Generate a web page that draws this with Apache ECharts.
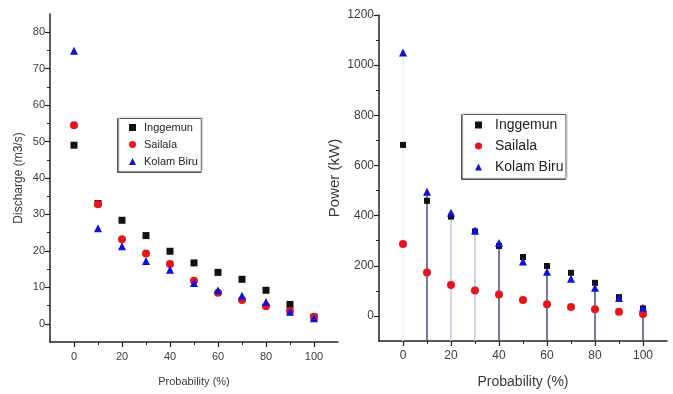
<!DOCTYPE html>
<html>
<head>
<meta charset="utf-8">
<script src="https://cdn.jsdelivr.net/npm/echarts@6/dist/echarts.min.js"></script>
<style>
  html, body { margin: 0; padding: 0; background: #fff; }
  #chart { width: 673px; height: 394px; }
</style>
</head>
<body>
<div id="chart"></div>
<script>
// probability of exceedance (%)
const probability = [0, 10, 20, 30, 40, 50, 60, 70, 80, 90, 100];

// discharge (m3/s)
const dischargeInggemun = [49, 33, 28.4, 24.2, 19.9, 16.7, 14.1, 12.2, 9.2, 5.3, 1.8];
const dischargeSailala = [54.5, 32.8, 23.2, 19.3, 16.4, 11.8, 8.5, 6.5, 4.8, 3.5, 1.9];
const dischargeKolamBiru = [74.9, 26.2, 21.3, 17.2, 14.8, 11.2, 9.2, 7.7, 6.0, 3.3, 1.5];

// power (kW)
const powerInggemun = [682, 459, 396, 337, 279, 235, 199, 172, 132, 75, 30];
const powerSailala = [287, 173, 123, 101, 85, 63, 47, 36, 27, 17, 8];
const powerKolamBiru = [1050, 495, 411, 341, 291, 217, 176, 148, 112, 71, 33];

// tick labels
const xTicks = [0, 20, 40, 60, 80, 100];
const xMinorTicks = [10, 30, 50, 70, 90];
const dischargeTicks = [0, 10, 20, 30, 40, 50, 60, 70, 80];
const dischargeMinorTicks = [5, 15, 25, 35, 45, 55, 65, 75];
const powerTicks = [0, 200, 400, 600, 800, 1000, 1200];
const powerMinorTicks = [100, 300, 500, 700, 900, 1100];

const names = ['Inggemun', 'Sailala', 'Kolam Biru'];

const chart = echarts.init(document.getElementById('chart'));

const AXIS = '#222';
const LABEL = '#3a3a3a';
const FONT = 'Liberation Sans, Arial, sans-serif';
const colors = { Inggemun: '#111111', Sailala: '#e5151b', 'Kolam Biru': '#1010d8' };
const symbols = { Inggemun: 'rect', Sailala: 'circle', 'Kolam Biru': 'triangle' };

function pairs(values) {
    return probability.map((p, i) => [p, values[i]]);
}

function majorAxis(grid, min, max, ticks, fontSize, margin, extra) {
    return Object.assign({
        type: 'value', gridIndex: grid, min: min, max: max,
        axisLine: { show: true, onZero: false, lineStyle: { color: AXIS, width: 1.5 } },
        axisTick: { show: true, length: 5, customValues: ticks, lineStyle: { color: AXIS, width: 1.2 } },
        axisLabel: { customValues: ticks, color: LABEL, fontSize: fontSize, fontFamily: FONT,
                     margin: margin, formatter: v => String(v) },
        splitLine: { show: false }
    }, extra);
}

function minorAxis(grid, min, max, ticks, position) {
    return {
        type: 'value', gridIndex: grid, min: min, max: max, position: position,
        axisLine: { show: false, onZero: false },
        axisTick: { show: true, length: 3, customValues: ticks, lineStyle: { color: AXIS, width: 1 } },
        axisLabel: { show: false },
        splitLine: { show: false }
    };
}

function scatter(name, values, xi, yi, sizes) {
    return {
        name: name, type: 'scatter', xAxisIndex: xi, yAxisIndex: yi,
        symbol: symbols[name], symbolSize: sizes[name],
        itemStyle: { color: colors[name], opacity: 1 },
        data: pairs(values), z: 3
    };
}

// vertical stems under some Kolam Biru power points
const stemShade = { 0: '#eeeef5', 10: '#4a4a8e', 20: '#c4c4de', 30: '#c4c4de', 40: '#4a4a8e',
                    60: '#4a4a8e', 80: '#4a4a8e', 100: '#4a4a8e' };

const leftSizes = { Inggemun: 7, Sailala: 8, 'Kolam Biru': 8 };
const rightSizes = { Inggemun: 6, Sailala: 8, 'Kolam Biru': 8 };

const option = {
    animation: false,
    backgroundColor: '#fff',
    grid: [
        { left: 50, width: 288, top: 14, height: 328 },
        { left: 379, width: 288, top: 15, height: 327 }
    ],
    xAxis: [
        majorAxis(0, -10, 110, xTicks, 11, 9, {
            name: 'Probability (%)', nameLocation: 'middle', nameGap: 34,
            nameTextStyle: { color: LABEL, fontSize: 11, fontFamily: FONT }
        }),
        minorAxis(0, -10, 110, xMinorTicks, 'bottom'),
        majorAxis(1, -10, 110, xTicks, 12, 9, {
            name: 'Probability (%)', nameLocation: 'middle', nameGap: 34,
            nameTextStyle: { color: LABEL, fontSize: 14, fontFamily: FONT }
        }),
        minorAxis(1, -10, 110, xMinorTicks, 'bottom')
    ],
    yAxis: [
        majorAxis(0, -5, 85, dischargeTicks, 11, 5, {
            name: 'Discharge (m3/s)', nameLocation: 'middle', nameGap: 25,
            nameTextStyle: { color: LABEL, fontSize: 12, fontFamily: FONT }
        }),
        minorAxis(0, -5, 85, dischargeMinorTicks, 'left'),
        majorAxis(1, -100, 1200, powerTicks, 12, 5, {
            name: 'Power (kW)', nameLocation: 'middle', nameGap: 37,
            nameTextStyle: { color: LABEL, fontSize: 15, fontFamily: FONT }
        }),
        minorAxis(1, -100, 1200, powerMinorTicks, 'left')
    ],
    legend: [
        {
            data: names, left: 119, top: 117, orient: 'vertical',
            itemWidth: 7, itemHeight: 7, itemGap: 6,
            padding: [5, 5, 4, 10],
            backgroundColor: '#fff', borderColor: '#d8d8d8', borderWidth: 1,
            shadowColor: '#555', shadowBlur: 0, shadowOffsetX: -1.5, shadowOffsetY: 1.5,
            textStyle: { color: '#222', fontSize: 11, fontFamily: FONT, padding: [0, 0, 0, 3] },
            selectedMode: false
        },
        {
            data: names, left: 463, top: 113, orient: 'vertical',
            itemWidth: 7, itemHeight: 7, itemGap: 7,
            padding: [5, 4, 4, 12],
            backgroundColor: '#fff', borderColor: '#e4e4e4', borderWidth: 1,
            shadowColor: '#555', shadowBlur: 0, shadowOffsetX: -1.5, shadowOffsetY: 1.5,
            textStyle: { color: '#222', fontSize: 14, fontFamily: FONT, padding: [0, 0, 0, 8] },
            selectedMode: false
        }
    ],
    series: [
        scatter('Inggemun', dischargeInggemun, 0, 0, leftSizes),
        scatter('Sailala', dischargeSailala, 0, 0, leftSizes),
        scatter('Kolam Biru', dischargeKolamBiru, 0, 0, leftSizes),
        {
            type: 'custom', xAxisIndex: 2, yAxisIndex: 2, z: 1, silent: true,
            data: pairs(powerKolamBiru).filter(d => stemShade[d[0]] !== undefined),
            renderItem: function (params, api) {
                const x = api.value(0);
                const top = api.coord([x, api.value(1)]);
                const bottom = api.coord([x, -100]);
                return {
                    type: 'line',
                    shape: { x1: top[0], y1: top[1], x2: bottom[0], y2: bottom[1] },
                    style: { stroke: stemShade[x], lineWidth: 1.5 }
                };
            }
        },
        scatter('Inggemun', powerInggemun, 2, 2, rightSizes),
        scatter('Sailala', powerSailala, 2, 2, rightSizes),
        scatter('Kolam Biru', powerKolamBiru, 2, 2, rightSizes)
    ]
};

chart.setOption(option);
</script>
</body>
</html>
